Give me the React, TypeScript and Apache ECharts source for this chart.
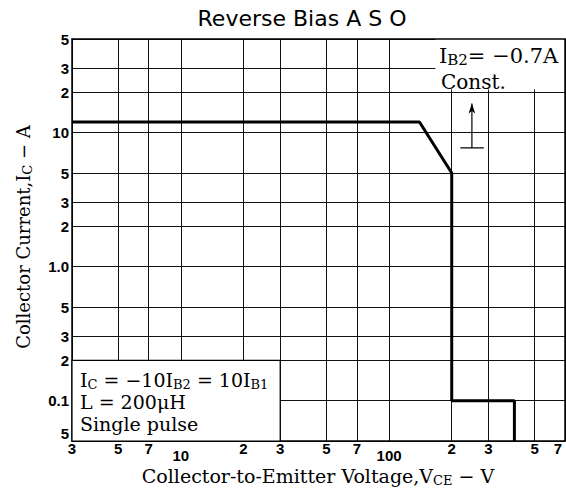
import React, { useEffect, useRef } from 'react';
import * as echarts from 'echarts';

// Axis ticks and labels
const xTickValues = [3, 5, 7, 10, 20, 30, 50, 70, 100, 200, 300, 500, 700];
const xTickLabels = ['3', '5', '7', '10', '2', '3', '5', '7', '100', '2', '3', '5', '7'];
const yTickValues = [0.05, 0.1, 0.2, 0.3, 0.5, 1, 2, 3, 5, 10, 20, 30, 50];
const yTickLabels = ['5', '0.1', '2', '3', '5', '1.0', '2', '3', '5', '10', '2', '3', '5'];

// Reverse bias ASO boundary (V, A)
const asoVoltage = [3, 140, 200, 200, 400, 400];
const asoCurrent = [12, 12, 5, 0.1, 0.1, 0.05];

// I_B2 arrow annotation (V, A)
const arrowVoltage = [250, 250];
const arrowCurrent = [7.7, 16.5];
const arrowBaseVoltage = [220, 285];
const arrowBaseCurrent = [7.7, 7.7];

// Annotation boxes (V, A)
const condBoxVoltage = [3, 30];
const condBoxCurrent = [0.05, 0.2];
const noteBoxVoltage = [167, 700];
const noteBoxCurrent = [21, 50];

const LABEL_FONT = "'Liberation Sans', Arial, sans-serif";
const SERIF = "'DejaVu Serif', serif";

function findIdx(vals: number[], v: number) {
  return vals.findIndex((t) => Math.abs(t - v) / t < 1e-6);
}

const labelBase = { fontSize: 15, fontWeight: 'bold' as const, fontFamily: LABEL_FONT, color: '#000' };

const serifRich = (size: number) => ({
  m: { fontSize: size, fontFamily: SERIF, fill: '#000', lineHeight: 22 },
  s: { fontSize: Math.round(size * 0.7), fontFamily: SERIF, fill: '#000', lineHeight: 12, verticalAlign: 'bottom' },
});

export default function App() {
  const ref = useRef<HTMLDivElement>(null);
  useEffect(() => {
    const chart = echarts.init(ref.current!, null, { renderer: 'svg' });
    const option: any = {
      animation: false,
      grid: { left: 72, top: 39, right: 1, bottom: 47, show: false },
      xAxis: [
        {
          type: 'log',
          logBase: 10,
          min: 3,
          max: 700,
          position: 'bottom',
          axisLine: { show: true, lineStyle: { color: '#000', width: 1.5 } },
          axisTick: { show: false, customValues: xTickValues },
          axisLabel: {
            customValues: xTickValues,
            showMinLabel: true,
            showMaxLabel: true,
            hideOverlap: false,
            margin: 0,
            ...labelBase,
            formatter: (v: number) => {
              const i = findIdx(xTickValues, v);
              if (i < 0) return '';
              const s = xTickLabels[i];
              if (s === '10' || s === '100') return `{low|${s}}`;
              if (i === xTickValues.length - 1) return `{end|${s}}`;
              return s;
            },
            rich: {
              low: { ...labelBase, padding: [7, 0, 0, 0] },
              end: { ...labelBase, padding: [0, 14, 0, 0] },
            },
          },
          splitLine: { show: true, lineStyle: { color: '#111', width: 1 } },
        },
        {
          type: 'log',
          logBase: 10,
          min: 3,
          max: 700,
          position: 'top',
          z: 10,
          axisLine: { show: true, lineStyle: { color: '#000', width: 1.5 } },
          axisTick: { show: false },
          axisLabel: { show: false },
          splitLine: { show: false },
        },
      ],
      yAxis: [
        {
          type: 'log',
          logBase: 10,
          min: 0.05,
          max: 50,
          position: 'left',
          axisLine: { show: true, lineStyle: { color: '#000', width: 1.5 } },
          axisTick: { show: false, customValues: yTickValues },
          axisLabel: {
            customValues: yTickValues,
            showMinLabel: true,
            showMaxLabel: true,
            hideOverlap: false,
            margin: 3,
            ...labelBase,
            formatter: (v: number) => {
              const i = findIdx(yTickValues, v);
              if (i < 0) return '';
              const s = yTickLabels[i];
              if (i === 0) return `{up|${s}}`;
              return s;
            },
            rich: {
              up: { ...labelBase, padding: [0, 0, 16, 0] },
            },
          },
          splitLine: { show: true, lineStyle: { color: '#111', width: 1 } },
        },
        {
          type: 'log',
          logBase: 10,
          min: 0.05,
          max: 50,
          position: 'right',
          z: 10,
          axisLine: { show: true, lineStyle: { color: '#000', width: 1.5 } },
          axisTick: { show: false },
          axisLabel: { show: false },
          splitLine: { show: false },
        },
      ],
      series: [
        {
          type: 'line',
          name: 'boxes',
          data: arrowBaseVoltage.map((v, i) => [v, arrowBaseCurrent[i]]),
          symbol: 'none',
          lineStyle: { color: '#000', width: 1.2 },
          silent: true,
          z: 3,
          markArea: {
            silent: true,
            label: { show: false },
            data: [
              [
                { coord: [condBoxVoltage[0], condBoxCurrent[0]], itemStyle: { color: '#fff', borderColor: '#000', borderWidth: 1.2 } },
                { coord: [condBoxVoltage[1], condBoxCurrent[1]] },
              ],
              [
                { coord: [noteBoxVoltage[0], noteBoxCurrent[0]], itemStyle: { color: '#fff', borderWidth: 0 } },
                { coord: [noteBoxVoltage[1], noteBoxCurrent[1]] },
              ],
            ],
          },
        },
        {
          type: 'line',
          name: 'arrow',
          data: [
            { value: [arrowVoltage[0], arrowCurrent[0]], symbol: 'none' },
            { value: [arrowVoltage[1], arrowCurrent[1]], symbol: 'arrow', symbolSize: [5, 10] },
          ],
          showSymbol: true,
          itemStyle: { color: '#000' },
          lineStyle: { color: '#000', width: 1.2 },
          silent: true,
          z: 4,
        },
        {
          type: 'line',
          name: 'ASO',
          data: asoVoltage.map((v, i) => [v, asoCurrent[i]]),
          symbol: 'none',
          lineStyle: { color: '#000', width: 3 },
          silent: true,
          z: 5,
        },
      ],
      graphic: [
        {
          type: 'text',
          x: 302,
          y: 18,
          z: 20,
          style: { text: 'Reverse Bias A S O', fontSize: 22, fontFamily: "'DejaVu Sans', sans-serif", fill: '#000', align: 'center', verticalAlign: 'middle' },
        },
        {
          type: 'text',
          x: 318,
          y: 476,
          z: 20,
          style: {
            text: '{m|Collector-to-Emitter Voltage,V}{s|CE}{m| − V}',
            rich: serifRich(19),
            align: 'center',
            verticalAlign: 'middle',
          },
        },
        {
          type: 'text',
          x: 23,
          y: 237,
          rotation: Math.PI / 2,
          z: 20,
          style: {
            text: '{m|Collector Current,I}{s|C}{m| − A}',
            rich: serifRich(18),
            align: 'center',
            verticalAlign: 'middle',
          },
        },
        {
          type: 'text',
          x: 439,
          y: 56,
          z: 20,
          style: { text: '{m|I}{s|B2}{m|= −0.7A}', rich: serifRich(21), align: 'left', verticalAlign: 'middle' },
        },
        {
          type: 'text',
          x: 441,
          y: 82,
          z: 20,
          style: { text: 'Const.', fontSize: 20, fontFamily: SERIF, fill: '#000', align: 'left', verticalAlign: 'middle' },
        },
        {
          type: 'text',
          x: 80,
          y: 380,
          z: 20,
          style: { text: '{m|I}{s|C}{m| = −10I}{s|B2}{m| = 10I}{s|B1}', rich: serifRich(19), align: 'left', verticalAlign: 'middle' },
        },
        {
          type: 'text',
          x: 80,
          y: 402,
          z: 20,
          style: { text: 'L = 200μH', fontSize: 19, fontFamily: SERIF, fill: '#000', align: 'left', verticalAlign: 'middle' },
        },
        {
          type: 'text',
          x: 80,
          y: 424,
          z: 20,
          style: { text: 'Single pulse', fontSize: 19, fontFamily: SERIF, fill: '#000', align: 'left', verticalAlign: 'middle' },
        },
      ],
    };
    chart.setOption(option);
    return () => chart.dispose();
  }, []);
  return <div ref={ref} style={{ position: 'absolute', left: 0, top: 0, width: 566, height: 488, background: '#fff' }} />;
}
